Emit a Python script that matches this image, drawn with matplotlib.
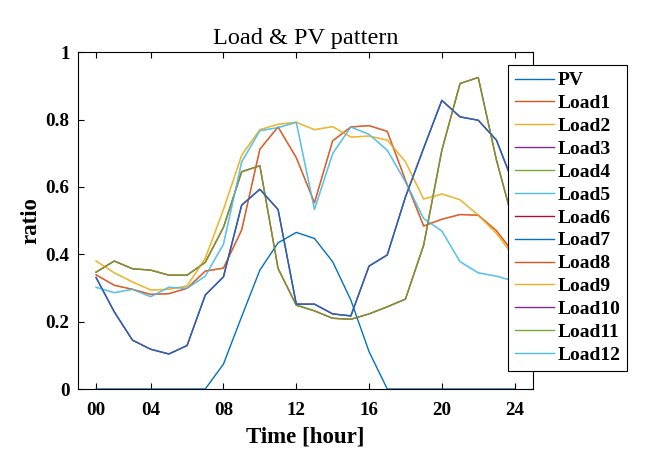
import matplotlib
matplotlib.use("Agg")
import matplotlib.pyplot as plt

plt.rcParams["font.family"] = ["Liberation Serif", "DejaVu Serif"]

hours = list(range(1, 25))
tick_pos = [1, 4, 8, 12, 16, 20, 24]
tick_labels = ["00", "04", "08", "12", "16", "20", "24"]

pv = [0, 0, 0, 0, 0, 0, 0, 0.074, 0.215, 0.353, 0.434, 0.465,
      0.447, 0.378, 0.264, 0.111, 0, 0, 0, 0, 0, 0, 0, 0]

# load profiles (several houses share the same profile)
prof_red = [0.339, 0.308, 0.296, 0.281, 0.283, 0.299, 0.350, 0.359, 0.472, 0.712, 0.778, 0.687,
            0.553, 0.737, 0.778, 0.782, 0.765, 0.620, 0.484, 0.504, 0.518, 0.516, 0.470, 0.400]
prof_orange = [0.380, 0.345, 0.318, 0.294, 0.296, 0.306, 0.388, 0.533, 0.694, 0.770, 0.786, 0.792,
               0.770, 0.779, 0.748, 0.751, 0.739, 0.675, 0.564, 0.579, 0.562, 0.516, 0.462, 0.390]
prof_dark = [0.331, 0.229, 0.145, 0.118, 0.104, 0.129, 0.279, 0.333, 0.546, 0.593, 0.533, 0.252,
             0.252, 0.223, 0.217, 0.365, 0.398, 0.570, 0.715, 0.857, 0.808, 0.798, 0.739, 0.600]
prof_olive = [0.347, 0.380, 0.357, 0.353, 0.338, 0.338, 0.376, 0.480, 0.645, 0.663, 0.358, 0.249,
              0.232, 0.210, 0.207, 0.223, 0.244, 0.267, 0.427, 0.709, 0.907, 0.925, 0.680, 0.480]
prof_sky = [0.302, 0.286, 0.296, 0.274, 0.302, 0.299, 0.335, 0.430, 0.674, 0.767, 0.776, 0.792,
            0.533, 0.699, 0.778, 0.756, 0.709, 0.615, 0.506, 0.469, 0.378, 0.345, 0.335, 0.320]

load_names = ["Load%d" % i for i in range(1, 13)]
load_data = [prof_red, prof_orange, prof_dark, prof_olive, prof_sky, prof_olive,
             prof_dark, prof_red, prof_orange, prof_dark, prof_olive, prof_sky]

# MATLAB default color order
colors = ["#0072BD", "#D95319", "#EDB120", "#7E2F8E", "#77AC30", "#4DBEEE", "#A2142F"]

fig = plt.figure(figsize=(6.49, 4.62), dpi=100)
ax = fig.add_axes([0.120, 0.158, 0.701, 0.729])

ax.plot(hours, pv, color=colors[0], lw=1.0, label="PV")
for i, (name, vals) in enumerate(zip(load_names, load_data)):
    c = colors[(i + 1) % 7]
    # blue houses end up on top of the purple ones, like in the original
    z = 3 if c == "#0072BD" else 2
    ax.plot(hours, vals, color=c, lw=1.0, alpha=0.75, label=name, zorder=z)

ax.set_xlim(0, 25)
ax.set_ylim(0, 1)
ax.set_xticks(tick_pos)
ax.set_xticklabels(tick_labels)
ax.set_yticks([0, 0.2, 0.4, 0.6, 0.8, 1])
ax.set_yticklabels(["0", "0.2", "0.4", "0.6", "0.8", "1"])
ax.tick_params(direction="in", length=4, width=0.8, top=True, right=True,
               labelsize=13.7)
ax.tick_params(axis="x", pad=9)
ax.tick_params(axis="y", pad=6)
for lab in ax.get_xticklabels() + ax.get_yticklabels():
    lab.set_fontweight("bold")
for sp in ax.spines.values():
    sp.set_linewidth(0.8)

ax.set_title("Load & PV pattern", fontsize=17.5, pad=6)
ax.set_xlabel("Time [hour]", fontsize=16.5, fontweight="bold", labelpad=6)
ax.set_ylabel("ratio", fontsize=16.5, fontweight="bold", labelpad=3)

leg = ax.legend(loc="upper left", bbox_to_anchor=(508 / 649, 1 - 65 / 462),
                bbox_transform=fig.transFigure, prop={"weight": "bold", "size": 14},
                frameon=True, fancybox=False, framealpha=1, handlelength=2.0,
                handletextpad=0.2, labelspacing=0.27, borderpad=0.35, borderaxespad=0)
leg.get_frame().set_edgecolor("black")
leg.get_frame().set_linewidth(0.8)
for h in leg.get_lines():
    h.set_alpha(1)
    h.set_linewidth(1.0)

fig.savefig("out.png", dpi=100)
